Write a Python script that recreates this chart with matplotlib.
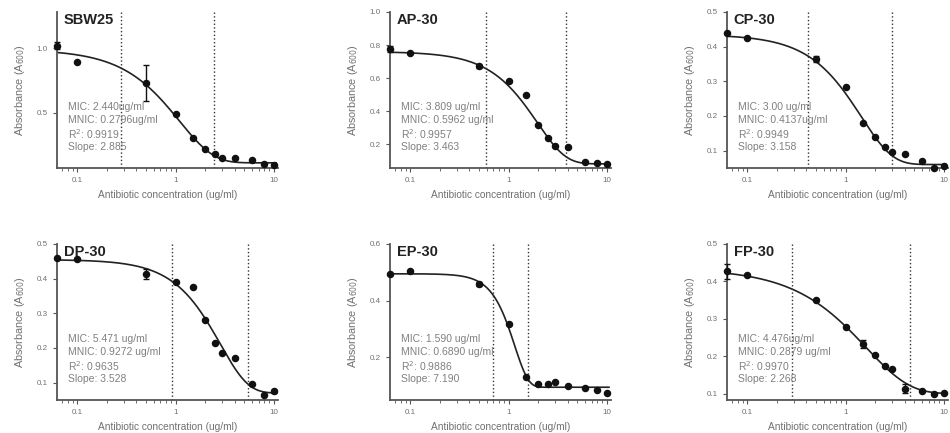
import numpy as np
import matplotlib.pyplot as plt
from matplotlib.ticker import FixedLocator, FormatStrFormatter, NullFormatter

# concentrations (ug/ml), shared by every strain
conc = [0.0625, 0.1, 0.5, 1, 1.5, 2, 2.5, 3, 4, 6, 8, 10]

names = ["SBW25", "AP-30", "CP-30", "DP-30", "EP-30", "FP-30"]

sbw25_abs = [1.02, 0.89, 0.73, 0.49, 0.30, 0.22, 0.18, 0.15, 0.15, 0.13, 0.10, 0.09]
ap30_abs = [0.775, 0.75, 0.67, 0.58, 0.50, 0.315, 0.235, 0.19, 0.18, 0.09, 0.085, 0.08]
cp30_abs = [0.44, 0.425, 0.365, 0.283, 0.18, 0.14, 0.11, 0.095, 0.09, 0.07, 0.05, 0.055]
dp30_abs = [0.46, 0.456, 0.413, 0.39, 0.377, 0.28, 0.215, 0.187, 0.172, 0.097, 0.065, 0.075]
ep30_abs = [0.494, 0.505, 0.459, 0.318, 0.131, 0.108, 0.105, 0.113, 0.10, 0.091, 0.084, 0.076]
fp30_abs = [0.427, 0.416, 0.35, 0.277, 0.233, 0.203, 0.173, 0.167, 0.113, 0.108, 0.10, 0.103]

sbw25_err = [0.03, 0, 0.14, 0, 0, 0, 0, 0, 0, 0, 0, 0]
ap30_err = [0.02, 0, 0.01, 0, 0, 0, 0, 0, 0, 0, 0, 0]
cp30_err = [0, 0, 0.008, 0, 0, 0, 0, 0, 0, 0, 0, 0]
dp30_err = [0, 0, 0.015, 0, 0, 0, 0, 0, 0, 0, 0, 0.005]
ep30_err = [0, 0, 0.008, 0, 0, 0, 0, 0, 0, 0, 0, 0]
fp30_err = [0.02, 0, 0, 0, 0.01, 0, 0, 0, 0.012, 0, 0, 0]

absorb = [sbw25_abs, ap30_abs, cp30_abs, dp30_abs, ep30_abs, fp30_abs]
errors = [sbw25_err, ap30_err, cp30_err, dp30_err, ep30_err, fp30_err]

# fit results printed on each panel
mic = [2.440, 3.809, 3.00, 5.471, 1.590, 4.476]
mnic = [0.2796, 0.5962, 0.4137, 0.9272, 0.6890, 0.2879]
r2 = ["0.9919", "0.9957", "0.9949", "0.9635", "0.9886", "0.9970"]
slope = [2.885, 3.463, 3.158, 3.528, 7.190, 2.268]
mic_txt = ["2.440ug/ml", "3.809 ug/ml", "3.00 ug/ml", "5.471 ug/ml", "1.590 ug/ml", "4.476ug/ml"]
mnic_txt = ["0.2796ug/ml", "0.5962 ug/ml", "0.4137ug/ml", "0.9272 ug/ml", "0.6890 ug/ml", "0.2879 ug/ml"]
slope_txt = ["2.885", "3.463", "3.158", "3.528", "7.190", "2.268"]

# lower asymptote and span of the fitted curves
bottom = [0.11, 0.08, 0.06, 0.07, 0.095, 0.10]
span = [0.88, 0.68, 0.375, 0.385, 0.40, 0.335]

ylims = [(0.07, 1.28), (0.055, 1.0), (0.05, 0.5), (0.05, 0.5), (0.05, 0.6), (0.083, 0.5)]
yticks = [[0.5, 1.0], [0.2, 0.4, 0.6, 0.8, 1.0], [0.1, 0.2, 0.3, 0.4, 0.5],
          [0.1, 0.2, 0.3, 0.4, 0.5], [0.2, 0.4, 0.6], [0.1, 0.2, 0.3, 0.4, 0.5]]


def gompertz(c, a, span_, b, mic_):
    # Lambert & Pearson modified Gompertz on log10 concentration
    m = np.log10(mic_) - 1.0 / b
    return a + span_ * np.exp(-np.exp(b * (np.log10(c) - m)))


fig = plt.figure(figsize=(9.5, 4.33), dpi=100)
plt.rcParams["font.family"] = ["Liberation Sans", "DejaVu Sans"]

lefts = [57, 390, 727]
tops = [12, 244]
W, H = 950, 433

gray = "#707070"
for i, name in enumerate(names):
    row, col = divmod(i, 3)
    x0 = lefts[col]
    y_top = tops[row]
    ax = fig.add_axes([x0 / W, (H - y_top - 156) / H, 221 / W, 156 / H])

    xs = np.logspace(np.log10(conc[0]), np.log10(10.5), 300)
    ax.plot(xs, gompertz(xs, bottom[i], span[i], slope[i], mic[i]),
            color="#222222", lw=1.2, zorder=2)
    ax.errorbar(conc, absorb[i], yerr=errors[i], fmt="o", color="#111111",
                ms=4.4, elinewidth=1, capsize=2.5, capthick=1, zorder=3, clip_on=False)
    ax.axvline(mnic[i], color="#333333", ls=":", lw=1)
    ax.axvline(mic[i], color="#333333", ls=":", lw=1)

    ax.set_xscale("log")
    ax.set_xlim(conc[0], 11)
    ax.set_ylim(*ylims[i])
    ax.xaxis.set_major_locator(FixedLocator([0.1, 1, 10]))
    ax.set_xticklabels(["0.1", "1", "10"])
    ax.xaxis.set_minor_formatter(NullFormatter())
    ax.yaxis.set_major_locator(FixedLocator(yticks[i]))
    ax.yaxis.set_major_formatter(FormatStrFormatter("%.1f"))

    for s in ["top", "right"]:
        ax.spines[s].set_visible(False)
    for s in ["left", "bottom"]:
        ax.spines[s].set_linewidth(1.3)
        ax.spines[s].set_color("#555555")
    ax.tick_params(axis="both", which="major", labelsize=5.8, colors="#555555",
                   labelcolor=gray, length=3, width=0.8)
    ax.tick_params(axis="x", which="minor", length=1.8, width=0.6, colors="#555555")

    ax.set_xlabel("Antibiotic concentration (ug/ml)", fontsize=7.3, color=gray, labelpad=4)
    ax.set_ylabel("Absorbance (A$_{600}$)", fontsize=7.8, color=gray, labelpad=7)

    ax.text(0.03, 0.95, name, transform=ax.transAxes, fontsize=10.5,
            fontweight="bold", color="#222222", va="center", ha="left")
    lines = [f"MIC: {mic_txt[i]}", f"MNIC: {mnic_txt[i]}",
             f"R$^2$: {r2[i]}", f"Slope: {slope_txt[i]}"]
    for k, t in enumerate(lines):
        ax.text(0.05, 0.39 - k * 0.085, t, transform=ax.transAxes,
                fontsize=7.5, color="#808080", va="center", ha="left")

fig.savefig("out.png", dpi=100)
